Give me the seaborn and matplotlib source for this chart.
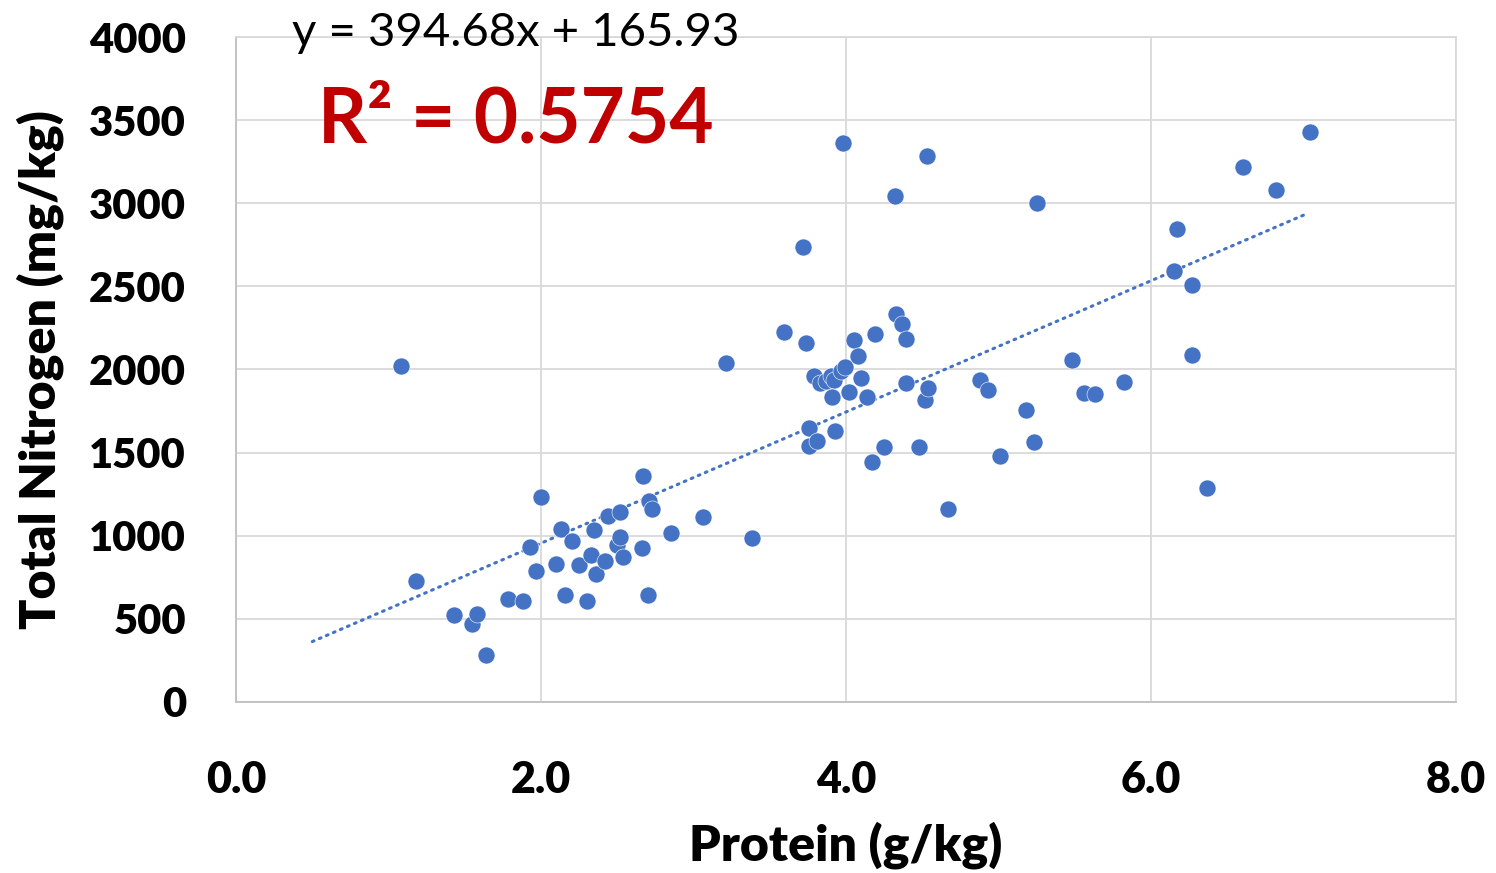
import numpy as np
import pandas as pd
import matplotlib
matplotlib.use("Agg")
import matplotlib.pyplot as plt
import seaborn as sns

# --- data ---
protein = [1.08, 1.18, 1.43, 1.55, 1.58, 1.64, 1.78, 1.88, 1.93, 1.97,
           2.00, 2.10, 2.13, 2.16, 2.20, 2.25, 2.30, 2.33, 2.35, 2.36,
           2.42, 2.44, 2.50, 2.52, 2.52, 2.54, 2.66, 2.67, 2.70, 2.71,
           2.73, 2.85, 3.06, 3.21, 3.38, 3.59, 3.72, 3.74, 3.76, 3.76,
           3.79, 3.81, 3.83, 3.87, 3.90, 3.92, 3.91, 3.93, 3.97, 3.99,
           3.98, 4.02, 4.05, 4.08, 4.10, 4.14, 4.17, 4.19, 4.25, 4.33,
           4.32, 4.37, 4.39, 4.39, 4.48, 4.52, 4.54, 4.53, 4.67, 4.88,
           4.93, 5.01, 5.18, 5.23, 5.25, 5.48, 5.56, 5.63, 5.82, 6.15,
           6.17, 6.27, 6.27, 6.37, 6.60, 6.82, 7.04]
nitrogen = [2021, 728, 523, 469, 529, 283, 620, 608, 932, 788,
            1233, 830, 1041, 644, 968, 824, 608, 884, 1035, 770,
            848, 1119, 944, 992, 1143, 872, 926, 1359, 644, 1209,
            1161, 1017, 1113, 2039, 986, 2226, 2737, 2159, 1648, 1540,
            1961, 1570, 1919, 1931, 1961, 1937, 1835, 1630, 1991, 2015,
            3362, 1865, 2177, 2081, 1949, 1835, 1444, 2214, 1534, 2334,
            3044, 2274, 2183, 1919, 1534, 1817, 1889, 3284, 1161, 1937,
            1877, 1480, 1756, 1564, 3002, 2057, 1859, 1853, 1925, 2592,
            2845, 2508, 2087, 1287, 3218, 3080, 3429]
slope, intercept = 394.68, 165.93
trend_x = [0.5, 7.0]
r_squared = "0.5754"
x_ticks = [0, 2, 4, 6, 8]
y_ticks = [0, 500, 1000, 1500, 2000, 2500, 3000, 3500, 4000]

df = pd.DataFrame({"Protein": protein, "Nitrogen": nitrogen})

sns.set_style("white")
plt.rcParams['font.family'] = ['Lato', 'DejaVu Sans']
plt.rcParams['text.color'] = 'black'
plt.rcParams['axes.labelcolor'] = 'black'
plt.rcParams['xtick.color'] = 'black'
plt.rcParams['ytick.color'] = 'black'

fig = plt.figure(figsize=(14.96, 8.73), dpi=100, facecolor='white')
ax = fig.add_axes([0.1578, 0.1959, 0.8155, 0.7617])

blue = "#4472C4"
ax.grid(True, color="#D9D9D9", linewidth=1.3, zorder=0)
ax.set_axisbelow(True)

# trendline from the displayed equation
tx = np.array(trend_x)
ax.plot(tx, slope * tx + intercept, color=blue, linestyle=(0, (0.6, 1.9)),
        linewidth=2.2, dash_capstyle='round', zorder=2)

sns.scatterplot(data=df, x="Protein", y="Nitrogen", ax=ax, color=blue,
                s=150, edgecolor='white', linewidth=0.4, zorder=3)

ax.set_xlim(0, 8)
ax.set_ylim(0, 4000)
ax.set_xticks(x_ticks)
ax.set_xticklabels([f"{v:.1f}" for v in x_ticks])
ax.set_yticks(y_ticks)
ax.set_yticklabels([str(v) for v in y_ticks])
ax.tick_params(axis='x', length=0, pad=42, labelsize=31)
ax.tick_params(axis='y', length=0, pad=36, labelsize=30)
for lab in ax.get_xticklabels() + ax.get_yticklabels():
    lab.set_fontweight('heavy')

for side in ['left', 'bottom']:
    ax.spines[side].set_color('#BFBFBF')
    ax.spines[side].set_linewidth(1.3)
for side in ['top', 'right']:
    ax.spines[side].set_color('#D9D9D9')
    ax.spines[side].set_linewidth(1.3)

ax.set_xlabel("Protein (g/kg)", fontsize=36, fontweight='heavy', labelpad=15)
ax.set_ylabel("Total Nitrogen (mg/kg)", fontsize=36, fontweight='heavy', labelpad=18)

# equation and R² annotations
fig.text(0.345, 0.962, f"y = {slope}x + {intercept}", fontsize=34,
         color='black', ha='center', va='center')
fig.text(0.345, 0.862, f"R² = {r_squared}", fontsize=55, fontweight='bold',
         color='#C00000', ha='center', va='center')

plt.savefig("out.png", dpi=100, facecolor='white')
plt.close()
